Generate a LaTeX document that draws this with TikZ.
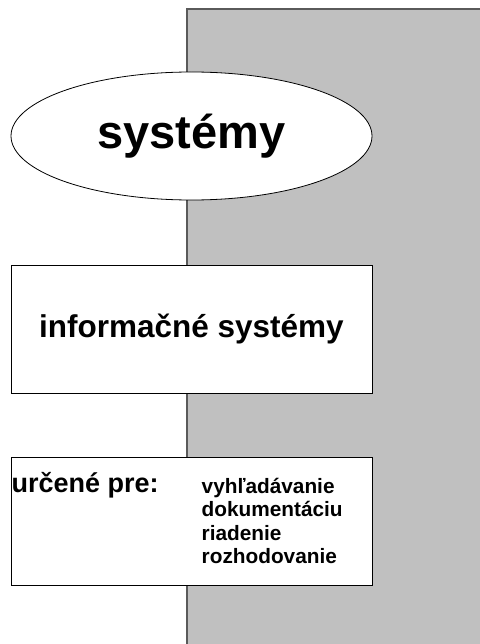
\documentclass[tikz,border=0pt]{standalone}
\usepackage{fontspec}
\setmainfont{Liberation Sans}
\usetikzlibrary{shapes.geometric}
\definecolor{panelgray}{HTML}{C0C0C0}
\definecolor{paneledge}{HTML}{5A5A5A}
\tikzset{
  panel/.style={fill=panelgray},
  paneline/.style={draw=paneledge, line width=1.4pt},
  topic/.style={ellipse, draw=black, line width=0.8pt, fill=white,
    minimum width=361pt, minimum height=128pt, inner sep=0pt,
    font=\bfseries\fontsize{47}{52}\selectfont},
  card/.style={rectangle, draw=black, line width=0.8pt, fill=white,
    minimum width=361pt, minimum height=128pt, inner sep=0pt},
  cardtitle/.style={font=\bfseries\fontsize{31.5}{36}\selectfont},
  lead/.style={anchor=base west, inner sep=0pt, font=\bfseries\fontsize{27}{30}\selectfont},
  item/.style={anchor=base west, inner sep=0pt, font=\bfseries\fontsize{20.8}{24}\selectfont}
}
\begin{document}
\begin{tikzpicture}[x=1pt,y=-1pt]
  \useasboundingbox (0,0) rectangle (479,644);
  % grey panel on the right
  \fill[panel] (187,9) rectangle (481,646);
  \draw[paneline] (187,646) -- (187,9) -- (481,9);
  % top ellipse
  \node[topic] (sys) at (191.5,136) {systémy};
  % middle box
  \node[card, cardtitle] (is) at (191.5,329) {informačné systémy};
  % bottom box with list
  \node[card] (use) at (191.5,521) {};
  \node[lead] (lead) at (11.5,492) {určené pre:};
  \node[item] (i1) at (201.5,493) {vyhľadávanie};
  \node[item] (i2) at (201.5,516.5) {dokumentáciu};
  \node[item] (i3) at (201.5,540) {riadenie};
  \node[item] (i4) at (201.5,563.5) {rozhodovanie};
\end{tikzpicture}
\end{document}
